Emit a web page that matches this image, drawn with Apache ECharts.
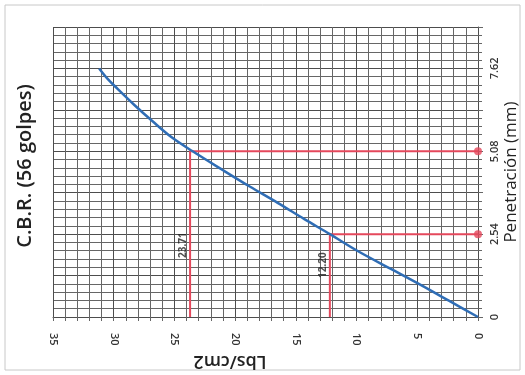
<!DOCTYPE html>
<html><head><meta charset="utf-8">
<script src="https://cdn.jsdelivr.net/npm/echarts@6/dist/echarts.min.js"></script>
<style>html,body{margin:0;padding:0;background:#fff}#c{width:525px;height:375px}</style>
</head><body><div id="c"></div>
<script>
// Curve: penetration (mm) vs load (Lbs/cm2)
const penetration = [0, 0.5, 1.0, 1.5, 2.0, 2.54, 3.0, 3.5, 4.0, 4.5, 5.08, 5.5, 6.0, 6.5, 7.0, 7.3, 7.62];
const load        = [0, 2.4, 4.8, 7.3, 9.8, 12.2, 14.3, 16.5, 18.8, 21.0, 23.5, 25.2, 26.8, 28.3, 29.7, 30.5, 31.2];
// C.B.R. reading points
const cbrPenetration = [2.54, 5.08];
const cbrLoad = [12.20, 23.71];
// Tick labels
const penTickLabels = [0, 2.54, 5.08, 7.62];
const loadTickLabels = [0, 5, 10, 15, 20, 25, 30, 35];

const RED = '#e5485c';
const BLUE = '#2f6db5';
const GRID = '#666666';
const GRID_MAJOR = '#4d4d4d';

const chart = echarts.init(document.getElementById('c'), null, {renderer: 'canvas'});

const redLines = cbrPenetration.map((p, i) => ({
  type: 'line', xAxisIndex: 0, yAxisIndex: 0, silent: true,
  data: [[0, p], [cbrLoad[i], p], [cbrLoad[i], 0]],
  showSymbol: false, symbol: 'none',
  lineStyle: {color: RED, width: 2},
  z: 3
}));

// label lift above the x axis (px), style only
const labelLift = [39, 59];

chart.setOption({
  animation: false,
  backgroundColor: '#ffffff',
  grid: {left: 53, right: 47, top: 27, bottom: 58, containLabel: false, outerBoundsMode: 'none'},
  xAxis: {
    type: 'value', inverse: true, min: 0, max: 35, interval: 5,
    axisLine: {show: true, lineStyle: {color: GRID_MAJOR, width: 1}},
    axisTick: {show: true, length: 4, lineStyle: {color: GRID}},
    minorTick: {show: true, splitNumber: 5, length: 4, lineStyle: {color: GRID}},
    splitLine: {show: true, lineStyle: {color: GRID_MAJOR, width: 1}},
    minorSplitLine: {show: true, lineStyle: {color: GRID, width: 1}},
    axisLabel: {
      rotate: -90, margin: 16, color: '#333', fontSize: 11,
      fontFamily: 'Open Sans', fontWeight: 600,
      formatter: v => loadTickLabels.indexOf(Math.round(v)) >= 0 ? String(Math.round(v)) : ''
    }
  },
  yAxis: {
    type: 'value', position: 'right', min: 0, max: 8.89, interval: 1.27,
    axisLine: {show: true, lineStyle: {color: GRID_MAJOR, width: 1}},
    axisTick: {show: true, length: 5, lineStyle: {color: GRID}},
    minorTick: {show: true, splitNumber: 5, length: 4, lineStyle: {color: GRID}},
    splitLine: {show: true, lineStyle: {color: GRID_MAJOR, width: 1}},
    minorSplitLine: {show: true, lineStyle: {color: GRID, width: 1}},
    axisLabel: {
      rotate: 90, margin: 11, color: '#333', fontSize: 11, fontFamily: 'Open Sans', fontWeight: 600,
      showMaxLabel: false,
      formatter: v => {
        const hit = penTickLabels.find(t => Math.abs(t - v) < 0.01);
        if (hit === undefined) return '';
        return hit === 0 ? '0' : hit.toFixed(2);
      }
    },
    name: 'Penetración (mm)', nameLocation: 'middle', nameRotate: 90, nameGap: 25,
    nameMoveOverlap: false,
    nameTextStyle: {fontSize: 17, color: '#222', fontFamily: 'Open Sans', fontWeight: 500}
  },
  graphic: [
    {type: 'rect', shape: {x: 5, y: 5, width: 515, height: 365}, style: {fill: 'none', stroke: '#c8c8c8', lineWidth: 1}, silent: true, z: -10},
    {type: 'text', x: 25, y: 166, rotation: Math.PI / 2,
     style: {text: 'C.B.R. (56 golpes)', font: '600 20px "Open Sans"', fill: '#222', textAlign: 'center', textVerticalAlign: 'middle'}},
    {type: 'text', x: 230, y: 361, rotation: Math.PI,
     style: {text: 'Lbs/cm2', font: '600 18px "Open Sans"', fill: '#222', textAlign: 'center', textVerticalAlign: 'middle'}}
  ],
  series: [
    {
      type: 'line', smooth: 0.35, showSymbol: false, symbol: 'none', silent: true,
      data: penetration.map((p, i) => [load[i], p]),
      lineStyle: {color: BLUE, width: 2.5}, z: 4
    },
    ...redLines,
    {
      type: 'scatter', silent: true, clip: false,
      data: cbrPenetration.map(p => [0, p]),
      symbolSize: 8, itemStyle: {color: RED}, z: 5
    },
    {
      type: 'scatter', silent: true, clip: false, symbolSize: 0,
      data: cbrLoad.map((v, i) => ({
        value: [v, 0],
        label: {
          show: true, formatter: v.toFixed(2), rotate: 90,
          position: 'left', distance: 2, align: 'left', verticalAlign: 'bottom',
          offset: [labelLift[i], 0],
          fontSize: 10, fontWeight: 'bold', color: '#222', fontFamily: 'Open Sans'
        }
      })),
      z: 6
    }
  ]
});
</script>
</body></html>
